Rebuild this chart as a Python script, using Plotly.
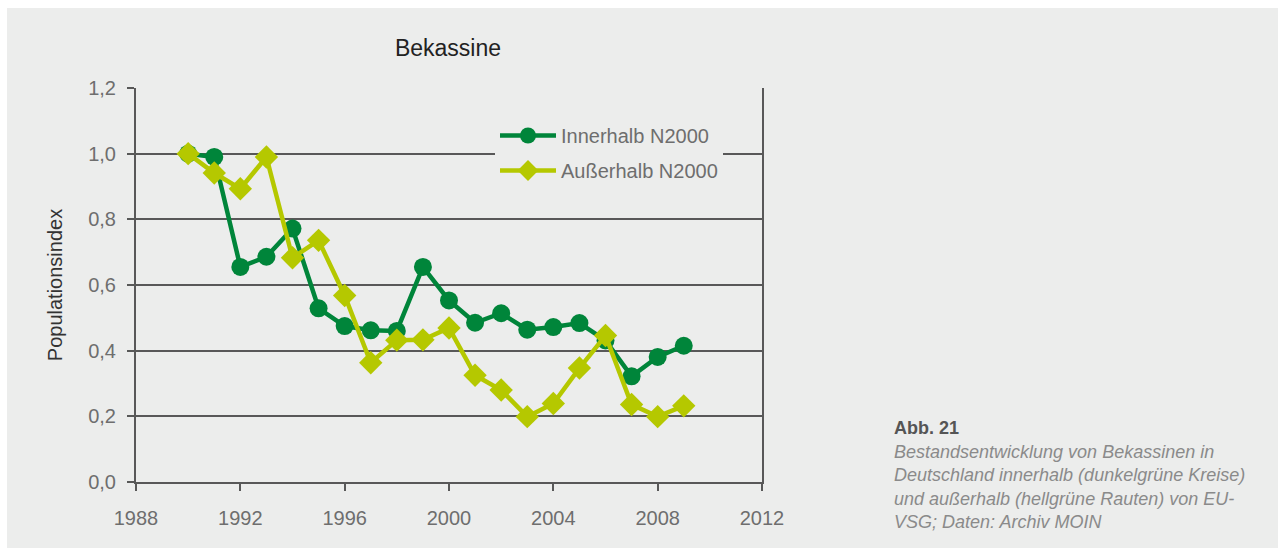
import plotly.graph_objects as go

years = [1990, 1991, 1992, 1993, 1994, 1995, 1996, 1997, 1998, 1999,
         2000, 2001, 2002, 2003, 2004, 2005, 2006, 2007, 2008, 2009]
innerhalb = [1.00, 0.99, 0.655, 0.686, 0.772, 0.529, 0.475, 0.462, 0.460, 0.655,
             0.553, 0.485, 0.514, 0.464, 0.472, 0.484, 0.431, 0.322, 0.381, 0.415]
ausserhalb = [1.00, 0.941, 0.893, 0.990, 0.683, 0.736, 0.568, 0.363, 0.432, 0.433,
              0.469, 0.325, 0.280, 0.199, 0.239, 0.347, 0.446, 0.236, 0.199, 0.232]
series_names = ["Innerhalb N2000", "Außerhalb N2000"]
x_ticks = [1988, 1992, 1996, 2000, 2004, 2008, 2012]
y_ticks = [0.0, 0.2, 0.4, 0.6, 0.8, 1.0, 1.2]
title_text = "Bekassine"
y_title = "Populationsindex"
caption_head = "Abb. 21"
caption_lines = ["Bestandsentwicklung von Bekassinen in",
                 "Deutschland innerhalb (dunkelgrüne Kreise)",
                 "und außerhalb (hellgrüne Rauten) von EU-",
                 "VSG; Daten: Archiv MOIN"]

BG = "#ecedec"
AX = "#585858"
DARK = "#00853a"
LIGHT = "#b5c800"
FONT = "Liberation Sans, Arial, sans-serif"

# white page border: 8px on top, 7px on the left
OFF_X, OFF_Y = 7, 8
W, H = 1278 - OFF_X, 548 - OFF_Y
# plot area in page pixels
L, R, T, B = 136, 762, 88, 482

def px(xp):
    return (xp - L) / (R - L)

def py(yp):
    return (B - yp) / (B - T)

fig = go.Figure()
fig.add_trace(go.Scatter(x=years, y=innerhalb, name=series_names[0], mode="lines+markers",
                         legendgroup="a",
                         line=dict(color=DARK, width=4.5),
                         marker=dict(symbol="circle", size=18, color=DARK)))
fig.add_trace(go.Scatter(x=years, y=ausserhalb, name=series_names[1], mode="lines+markers",
                         legendgroup="b",
                         line=dict(color=LIGHT, width=4.5),
                         marker=dict(symbol="diamond", size=18, color=LIGHT)))

fig.update_layout(
    width=W, height=H,
    margin=dict(l=L - OFF_X, r=W - (R - OFF_X), t=T - OFF_Y, b=H - (B - OFF_Y), pad=0),
    paper_bgcolor=BG, plot_bgcolor=BG,
    separators=",.",
    font=dict(family=FONT, size=20, color="#6e6e6e"),
    showlegend=True,
    title=dict(text=title_text, x=px(448), xanchor="center", xref="paper",
               y=1 - (48 - OFF_Y) / H, yanchor="middle",
               font=dict(family=FONT, size=23, color="#222222")),
    legend=dict(x=px(495), xanchor="left", y=py(116), yanchor="top",
                bgcolor=BG, borderwidth=0, tracegroupgap=6, itemwidth=56,
                font=dict(family=FONT, size=20, color="#6e6e6e")),
    xaxis=dict(range=[1988, 2012], tickvals=x_ticks, ticktext=[str(v) for v in x_ticks],
               showgrid=False, zeroline=False, showline=True, linecolor=AX, linewidth=2,
               ticks="outside", ticklen=7, tickwidth=2, tickcolor=AX,
               ticklabelstandoff=10,
               tickfont=dict(family=FONT, size=20, color="#6e6e6e")),
    yaxis=dict(range=[0, 1.2], tickvals=y_ticks, tickformat=".1f",
               showgrid=True, gridcolor=AX, gridwidth=2,
               zeroline=False, showline=True, linecolor=AX, linewidth=2, mirror=True,
               ticks="outside", ticklen=7, tickwidth=2, tickcolor=AX,
               ticklabelstandoff=7,
               tickfont=dict(family=FONT, size=20, color="#6e6e6e"),
               title=dict(text=y_title, standoff=20,
                          font=dict(family=FONT, size=20, color="#333333"))),
)

fig.add_annotation(xref="paper", yref="paper", x=px(892), y=py(428), xanchor="left",
                   yanchor="middle", showarrow=False, text="<b>" + caption_head + "</b>",
                   font=dict(family=FONT, size=18, color="#555555"))
fig.add_annotation(xref="paper", yref="paper", x=px(892), y=py(440), xanchor="left",
                   yanchor="top", showarrow=False, align="left",
                   text="<br>".join("<i>" + s + "</i>" for s in caption_lines),
                   font=dict(family=FONT, size=18, color="#8a8a8a"))

fig.write_html("out.html",
               post_script="document.body.style.margin='8px 0 0 7px';"
                           "document.body.style.overflow='hidden';")
